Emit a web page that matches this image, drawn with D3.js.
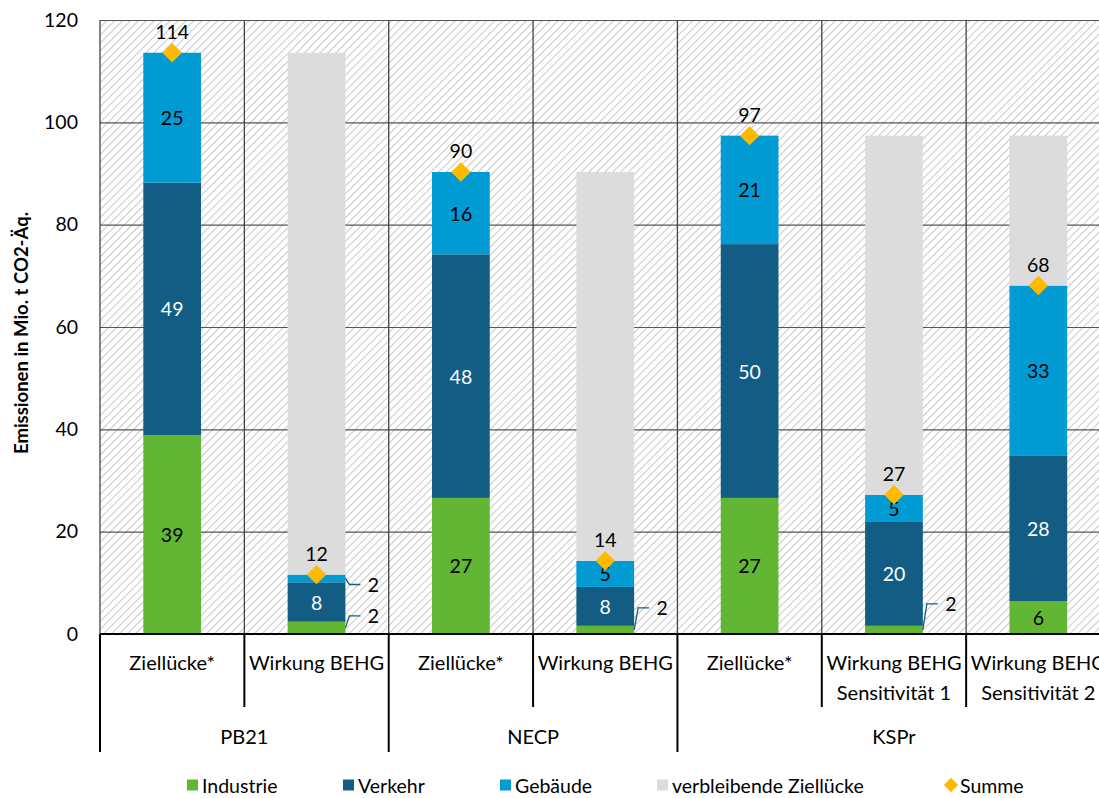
<!DOCTYPE html>
<html lang="de">
<head>
<meta charset="utf-8">
<script src="https://cdn.jsdelivr.net/npm/d3@7"></script>
<style>
  html, body { margin: 0; padding: 0; background: #fff; }
  svg { display: block; font-family: Lato, "Open Sans", sans-serif; }
</style>
</head>
<body>
<svg id="chart" width="1099" height="798"></svg>
<script>
// Emissionsminderung nach Sektoren (Mio. t CO2-Äq.)
const categories = ["Ziellücke*", "Wirkung BEHG", "Ziellücke*", "Wirkung BEHG", "Ziellücke*",
                    "Wirkung BEHG|Sensitivität 1", "Wirkung BEHG|Sensitivität 2"];
const groups = ["PB21", "NECP", "KSPr"];
const groupOf = ["PB21", "PB21", "NECP", "NECP", "KSPr", "KSPr", "KSPr"];

const industrie  = [38.9, 2.4, 26.6, 1.6, 26.6, 1.6, 6.4];
const verkehr    = [49.3, 7.7, 47.6, 7.6, 49.6, 20.3, 28.4];
const gebaeude   = [25.4, 1.5, 16.1, 5.1, 21.2, 5.3, 33.3];
const restluecke = [0, 102.0, 0, 76.0, 0, 70.2, 29.3];
const summe      = [113.6, 11.6, 90.3, 14.3, 97.4, 27.2, 68.1];

const yTicks = [0, 20, 40, 60, 80, 100, 120];

const seriesKeys   = ["Industrie", "Verkehr", "Gebäude", "verbleibende Ziellücke"];
const seriesColors = { "Industrie": "#62b633", "Verkehr": "#135d84", "Gebäude": "#009bd3", "verbleibende Ziellücke": "#dcdcdc" };
const labelColors  = { "Industrie": "#000", "Verkehr": "#fff", "Gebäude": "#000" };

// small segments labelled beside the bar with a leader line
const callouts = [
  { cat: 1, key: "Industrie", dy: -12 },
  { cat: 1, key: "Gebäude",   dy: 6 },
  { cat: 3, key: "Industrie", dy: -22 },
  { cat: 5, key: "Industrie", dy: -26 }
];

const table = categories.map((c, i) => ({
  idx: i,
  "Industrie": industrie[i],
  "Verkehr": verkehr[i],
  "Gebäude": gebaeude[i],
  "verbleibende Ziellücke": restluecke[i]
}));

const svg = d3.select("#chart");
const plotLeft = 100, plotRight = 1110.5, plotTop = 20, plotBottom = 634;

const x = d3.scaleBand().domain(d3.range(categories.length)).range([plotLeft, plotRight]).padding(0);
const y = d3.scaleLinear().domain([0, 120]).range([plotBottom, plotTop]);
const barW = x.bandwidth() * 0.4;
const barX = i => x(i) + (x.bandwidth() - barW) / 2;

// hatched plot background
const defs = svg.append("defs");
const pat = defs.append("pattern")
  .attr("id", "hatch").attr("patternUnits", "userSpaceOnUse")
  .attr("width", 5.6).attr("height", 5.6)
  .attr("patternTransform", "rotate(45)");
pat.append("rect").attr("width", 5.6).attr("height", 5.6).attr("fill", "#fff");
pat.append("line").attr("x1", 0.5).attr("y1", 0).attr("x2", 0.5).attr("y2", 5.6)
  .attr("stroke", "#c8c8c8").attr("stroke-width", 1.1);

svg.append("rect")
  .attr("x", plotLeft).attr("y", plotTop)
  .attr("width", plotRight - plotLeft).attr("height", plotBottom - plotTop)
  .attr("fill", "url(#hatch)");

// horizontal gridlines + value axis
const yAxis = svg.append("g")
  .attr("transform", `translate(${plotLeft},0)`)
  .call(d3.axisLeft(y).tickValues(yTicks).tickSize(-(plotRight - plotLeft)).tickPadding(22));
yAxis.select(".domain").remove();
yAxis.selectAll(".tick line").attr("stroke", "#555").attr("stroke-width", 1.2);
yAxis.selectAll(".tick text")
  .attr("font-family", "Lato, sans-serif").attr("font-size", 19.5).attr("fill", "#000");

// vertical category separators inside the plot
const bounds = d3.range(categories.length + 1).map(i => i < categories.length ? x(i) : plotRight);
svg.append("g").selectAll("line").data(bounds).join("line")
  .attr("x1", d => d).attr("x2", d => d)
  .attr("y1", plotTop).attr("y2", plotBottom)
  .attr("stroke", "#444").attr("stroke-width", 1.3);

// stacked bars
const stacked = d3.stack().keys(seriesKeys)(table);
const layers = svg.append("g").selectAll("g").data(stacked).join("g")
  .attr("fill", d => seriesColors[d.key]);
layers.selectAll("rect").data(d => d.filter(s => s[1] - s[0] > 0)).join("rect")
  .attr("x", d => barX(d.data.idx))
  .attr("width", barW)
  .attr("y", d => y(d[1]))
  .attr("height", d => y(d[0]) - y(d[1]));

// category axis line
svg.append("line")
  .attr("x1", plotLeft).attr("x2", plotRight)
  .attr("y1", plotBottom).attr("y2", plotBottom)
  .attr("stroke", "#000").attr("stroke-width", 2);

// segment value labels
const fmt = d3.format(".0f");
const isCallout = (cat, key) => callouts.some(c => c.cat === cat && c.key === key);
const labelG = svg.append("g")
  .attr("font-family", "Lato, sans-serif").attr("font-size", 19.5)
  .attr("text-anchor", "middle").attr("dominant-baseline", "central");

stacked.filter(s => s.key !== "verbleibende Ziellücke").forEach(layer => {
  layer.forEach(seg => {
    const i = seg.data.idx;
    const v = seg[1] - seg[0];
    if (v <= 0 || isCallout(i, layer.key)) return;
    labelG.append("text")
      .attr("x", x(i) + x.bandwidth() / 2)
      .attr("y", y((seg[0] + seg[1]) / 2))
      .attr("fill", labelColors[layer.key])
      .text(fmt(v));
  });
});

// leader-line labels for thin segments
callouts.forEach(c => {
  const layer = stacked.find(s => s.key === c.key);
  const seg = layer[c.cat];
  const x0 = barX(c.cat) + barW;
  const y0 = y((seg[0] + seg[1]) / 2);
  const y1 = y0 + c.dy;
  svg.append("path")
    .attr("d", `M${x0},${y0} L${x0 + 4},${y1} L${x0 + 15},${y1}`)
    .attr("fill", "none").attr("stroke", "#135d84").attr("stroke-width", 1.3);
  labelG.append("text")
    .attr("x", x0 + 28).attr("y", y1)
    .attr("fill", "#000")
    .text(fmt(seg[1] - seg[0]));
});

// Summe markers
const diamond = d3.symbol().type(d3.symbolDiamond2).size(240);
svg.append("g").selectAll("path").data(summe).join("path")
  .attr("transform", (d, i) => `translate(${x(i) + x.bandwidth() / 2},${y(d)})`)
  .attr("d", diamond)
  .attr("fill", "#ffb900");
labelG.selectAll(".sum").data(summe).join("text")
  .attr("class", "sum")
  .attr("x", (d, i) => x(i) + x.bandwidth() / 2)
  .attr("y", d => y(d) - 21)
  .attr("fill", "#000")
  .text(d => fmt(d));

// two-level category axis
const axisG = svg.append("g").attr("stroke", "#000").attr("stroke-width", 2);
bounds.forEach((b, i) => {
  const groupEdge = i === 0 || i === categories.length || groupOf[i] !== groupOf[i - 1];
  axisG.append("line")
    .attr("x1", b).attr("x2", b)
    .attr("y1", plotBottom).attr("y2", groupEdge ? 752 : 707);
});

const catText = svg.append("g")
  .attr("font-family", "Lato, sans-serif").attr("font-size", 20)
  .attr("text-anchor", "middle").attr("fill", "#000");
categories.forEach((c, i) => {
  const lines = c.split("|");
  const t = catText.append("text")
    .attr("x", x(i) + x.bandwidth() / 2)
    .attr("y", 670);
  lines.forEach((ln, k) => {
    t.append("tspan").attr("x", x(i) + x.bandwidth() / 2).attr("dy", k === 0 ? 0 : 30).text(ln);
  });
});
groups.forEach(g => {
  const idx = d3.range(categories.length).filter(i => groupOf[i] === g);
  const cx = (x(idx[0]) + x(idx[idx.length - 1]) + x.bandwidth()) / 2;
  catText.append("text").attr("x", cx).attr("y", 744).text(g);
});

// y-axis title
svg.append("text")
  .attr("transform", "translate(28,333) rotate(-90)")
  .attr("text-anchor", "middle")
  .attr("font-family", "Lato, sans-serif").attr("font-weight", "bold").attr("font-size", 18.5)
  .attr("fill", "#000")
  .text("Emissionen in Mio. t CO2-Äq.");

// legend
const legendItems = [
  { name: "Industrie", color: seriesColors["Industrie"], shape: "square", x: 187 },
  { name: "Verkehr", color: seriesColors["Verkehr"], shape: "square", x: 343 },
  { name: "Gebäude", color: seriesColors["Gebäude"], shape: "square", x: 500 },
  { name: "verbleibende Ziellücke", color: seriesColors["verbleibende Ziellücke"], shape: "square", x: 657 },
  { name: "Summe", color: "#ffb900", shape: "diamond", x: 945 }
];
const legendY = 785;
const lg = svg.append("g").attr("font-family", "Lato, sans-serif").attr("font-size", 19.5);
legendItems.forEach(it => {
  if (it.shape === "square") {
    lg.append("rect").attr("x", it.x).attr("y", legendY - 5.5).attr("width", 11).attr("height", 11).attr("fill", it.color);
  } else {
    lg.append("path").attr("transform", `translate(${it.x + 6},${legendY})`)
      .attr("d", d3.symbol().type(d3.symbolDiamond2).size(130)).attr("fill", it.color);
  }
  lg.append("text").attr("x", it.x + 15).attr("y", legendY).attr("dominant-baseline", "central")
    .attr("fill", "#000").text(it.name);
});
</script>
</body>
</html>
